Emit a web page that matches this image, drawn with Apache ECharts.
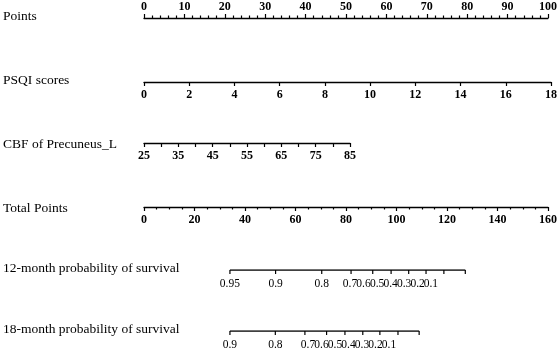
<!DOCTYPE html>
<html>
<head>
<meta charset="utf-8">
<script src="https://cdn.jsdelivr.net/npm/echarts@6/dist/echarts.min.js"></script>
<style>
  html, body { margin: 0; padding: 0; background: #fff; }
  #main { width: 560px; height: 350px; }
</style>
</head>
<body>
<div id="main"></div>
<script>
// row names of the nomogram
const rowTitles = [
  "Points",
  "PSQI scores",
  "CBF of Precuneus_L",
  "Total Points",
  "12-month probability of survival",
  "18-month probability of survival",
];

// linear scales: [min, max, label step]
const pointsScale = [0, 100, 10];
const psqiScale = [0, 18, 2];
const cbfScale = [25, 85, 10];
const totalScale = [0, 160, 20];

// survival scales, positions given in total points
const surv12Labels = ["0.95", "0.9", "0.8", "0.7", "0.6", "0.5", "0.4", "0.3", "0.2", "0.1"];
const surv12TickPts = [33.7, 51.6, 69.7, 81.2, 89.7, 96.9, 103.8, 110.6, 117.6, 126.0];
const surv12LabelPts = [33.7, 51.6, 69.7, 80.8, 86.1, 91.4, 96.7, 102.0, 107.3, 112.5];

const surv18Labels = ["0.9", "0.8", "0.7", "0.6", "0.5", "0.4", "0.3", "0.2", "0.1"];
const surv18TickPts = [33.7, 51.5, 63.1, 71.6, 78.8, 85.8, 92.5, 99.6, 107.9];
const surv18LabelPts = [33.7, 51.5, 64.3, 69.6, 74.9, 80.2, 85.5, 90.8, 96.1];

const font = "Liberation Serif";
const lineY = [18, 82, 143, 207, 270, 331];
const titleY = [15, 79, 143, 207, 267, 328];

const chart = echarts.init(document.getElementById("main"));

function axisFor(i, scale, opts) {
  return Object.assign(
    {
      gridIndex: i,
      type: "value",
      min: scale[0],
      max: scale[1],
      interval: scale[2],
      position: "bottom",
      splitLine: { show: false },
      axisLine: { show: true, onZero: false, lineStyle: { color: "#000", width: 1.3 } },
      axisTick: { show: true, inside: false, length: 4, lineStyle: { color: "#000", width: 1.2 } },
      axisLabel: { margin: 7, color: "#000", fontFamily: font, fontSize: 12, fontWeight: "bold" },
    },
    opts
  );
}

const grids = [];
const xAxes = [];
const yAxes = [];
for (let i = 0; i < 6; i++) {
  if (i === 0) {
    grids.push({ left: 144, right: 8, top: lineY[i], height: 10 });
  } else if (i === 2) {
    grids.push({ left: 144, width: 206, top: lineY[i] - 10, height: 10 });
  } else if (i >= 4) {
    grids.push({ left: 144, right: 8, top: lineY[i], height: 10 });
  } else {
    grids.push({ left: 144, right: 8, top: lineY[i] - 10, height: 10 });
  }
  yAxes.push({ gridIndex: i, type: "value", min: 0, max: 1, show: false });
}

xAxes.push(
  axisFor(0, pointsScale, {
    position: "top",
    minorTick: { show: true, splitNumber: 5, length: 2.5, lineStyle: { color: "#000", width: 1.2 } },
    axisLabel: { margin: 5, color: "#000", fontFamily: font, fontSize: 12, fontWeight: "bold" },
  })
);
xAxes.push(axisFor(1, psqiScale));
xAxes.push(
  axisFor(2, cbfScale, {
    minorTick: { show: true, splitNumber: 2, length: 4, lineStyle: { color: "#000", width: 1.2 } },
  })
);
xAxes.push(
  axisFor(3, totalScale, {
    minorTick: { show: true, splitNumber: 4, length: 2.5, lineStyle: { color: "#000", width: 1.2 } },
  })
);
xAxes.push({ gridIndex: 4, type: "value", min: totalScale[0], max: totalScale[1], show: false });
xAxes.push({ gridIndex: 5, type: "value", min: totalScale[0], max: totalScale[1], show: false });

function survSeries(idx, tickPts, labelPts, labels) {
  const ticks = tickPts.map((p) => [p, 1]);
  const texts = labelPts.map((p, k) => [p, 1, labels[k]]);
  return [
    {
      type: "line",
      xAxisIndex: idx,
      yAxisIndex: idx,
      data: [ticks[0], ticks[ticks.length - 1]],
      symbol: "none",
      silent: true,
      lineStyle: { color: "#000", width: 1.3 },
    },
    {
      type: "custom",
      xAxisIndex: idx,
      yAxisIndex: idx,
      data: ticks,
      silent: true,
      renderItem: function (params, api) {
        const p = api.coord([api.value(0), api.value(1)]);
        return {
          type: "line",
          shape: { x1: p[0], y1: p[1], x2: p[0], y2: p[1] + 4 },
          style: { stroke: "#000", lineWidth: 1.2 },
        };
      },
    },
    {
      type: "custom",
      xAxisIndex: idx,
      yAxisIndex: idx,
      data: texts,
      silent: true,
      renderItem: function (params, api) {
        const p = api.coord([api.value(0), api.value(1)]);
        return {
          type: "text",
          x: p[0],
          y: p[1] + 14,
          style: {
            text: texts[params.dataIndex][2],
            fill: "#000",
            font: "11.5px " + font,
            align: "center",
            verticalAlign: "middle",
          },
        };
      },
    },
  ];
}

const option = {
  animation: false,
  backgroundColor: "#fff",
  title: rowTitles.map((t, i) => ({
    text: t,
    left: 3,
    top: titleY[i] - 6,
    padding: 0,
    textStyle: { color: "#000", fontFamily: font, fontSize: 13.5, fontWeight: "normal" },
  })),
  grid: grids,
  xAxis: xAxes,
  yAxis: yAxes,
  series: [].concat(
    survSeries(4, surv12TickPts, surv12LabelPts, surv12Labels),
    survSeries(5, surv18TickPts, surv18LabelPts, surv18Labels)
  ),
};

chart.setOption(option);
</script>
</body>
</html>
